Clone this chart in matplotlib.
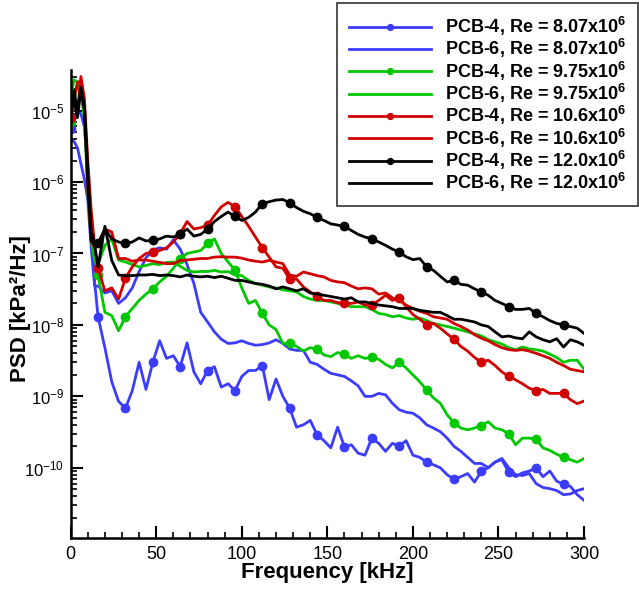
import numpy as np
import matplotlib
matplotlib.use("Agg")
import matplotlib.pyplot as plt
from matplotlib.ticker import LogLocator, MultipleLocator, NullFormatter, FixedLocator

plt.rcParams['font.family'] = ['Liberation Sans', 'DejaVu Sans']
plt.rcParams['mathtext.fontset'] = 'custom'
plt.rcParams['mathtext.rm'] = 'Liberation Sans'
plt.rcParams['mathtext.it'] = 'Liberation Sans:italic'
plt.rcParams['mathtext.bf'] = 'Liberation Sans:bold'

# Frequency grid [kHz]
freq = [0, 2, 4, 6, 8, 10, 12, 14, 16,
        20, 24, 28, 32, 36, 40, 44, 48, 52, 56, 60, 64, 68, 72, 76, 80,
        84, 88, 92, 96, 100, 104, 108, 112, 116, 120, 124, 128, 132, 136, 140,
        144, 148, 152, 156, 160, 164, 168, 172, 176, 180, 184, 188, 192, 196, 200,
        204, 208, 212, 216, 220, 224, 228, 232, 236, 240, 244, 248, 252, 256, 260,
        264, 268, 272, 276, 280, 284, 288, 292, 296, 300]

# PSD [kPa^2/Hz]
b4 = [5.6e-6, 7.5e-6, 1.0e-5, 9.0e-6, 6.0e-6, 1.5e-6, 2.5e-7, 4.0e-8, 1.3e-8,
      4.8e-9, 1.6e-9, 8.5e-10, 6.8e-10, 1.2e-9, 3.0e-9, 1.25e-9, 3.0e-9, 6.0e-9, 3.4e-9, 3.7e-9, 2.6e-9,
      5.6e-9, 2.2e-9, 1.5e-9, 2.3e-9, 2.6e-9, 1.35e-9, 1.5e-9, 1.2e-9, 1.9e-9, 2.3e-9,
      2.3e-9, 2.7e-9, 9.0e-10, 1.75e-9, 1.0e-9, 6.8e-10, 3.7e-10, 4.0e-10, 4.6e-10,
      2.9e-10, 2.4e-10, 1.9e-10, 3.7e-10, 1.95e-10, 2.1e-10, 1.6e-10, 1.5e-10, 2.6e-10, 2.2e-10,
      1.7e-10, 2.2e-10, 2.0e-10, 2.4e-10, 1.5e-10, 1.4e-10, 1.2e-10, 1.1e-10, 1.0e-10, 8.0e-11,
      6.9e-11, 7.5e-11, 8.3e-11, 6.3e-11, 9.0e-11, 1.0e-10, 1.2e-10, 1.3e-10, 8.6e-11, 7.5e-11,
      8.5e-11, 9.0e-11, 1.0e-10, 7.5e-11, 9.0e-11, 6.5e-11, 5.9e-11, 5.5e-11, 4.2e-11, 3.5e-11]
b6 = [3.9e-6, 3.7e-6, 3.0e-6, 1.8e-6, 1.1e-6, 5.6e-7, 1.2e-7, 3.5e-8, 3.5e-8,
      2.8e-8, 3.0e-8, 2.0e-8, 2.4e-8, 3.3e-8, 5.6e-8, 8.7e-8, 1.12e-7, 1.2e-7, 1.15e-7, 1.55e-7, 1.15e-7,
      7.0e-8, 3.8e-8, 1.5e-8, 1.1e-8, 8.0e-9, 6.3e-9, 5.5e-9, 5.6e-9, 6.0e-9, 5.5e-9,
      5.2e-9, 5.3e-9, 5.6e-9, 6.2e-9, 5.5e-9, 4.6e-9, 4.4e-9, 4.4e-9, 3.0e-9,
      2.8e-9, 2.4e-9, 2.1e-9, 2.0e-9, 1.9e-9, 1.65e-9, 1.4e-9, 1.0e-9, 1.0e-9, 1.1e-9,
      1.05e-9, 8.0e-10, 6.5e-10, 6.0e-10, 5.8e-10, 5.0e-10, 4.0e-10, 3.6e-10, 3.2e-10, 2.6e-10,
      2.0e-10, 1.7e-10, 1.4e-10, 1.15e-10, 1.15e-10, 1.0e-10, 1.2e-10, 1.35e-10, 1.0e-10, 8.0e-11,
      7.8e-11, 8.3e-11, 6.0e-11, 5.3e-11, 5.1e-11, 4.8e-11, 4.2e-11, 4.3e-11, 4.8e-11, 5.1e-11]
g4 = [6.9e-6, 1.5e-5, 2.2e-5, 1.8e-5, 8.0e-6, 1.0e-6, 2.0e-7, 9.0e-8, 5.0e-8,
      1.5e-8, 1.35e-8, 8.3e-9, 1.3e-8, 1.7e-8, 2.2e-8, 2.7e-8, 3.2e-8, 4.0e-8, 4.8e-8, 6.2e-8, 8.5e-8,
      1.0e-7, 1.05e-7, 1.1e-7, 1.38e-7, 1.6e-7, 1.0e-7, 7.6e-8, 5.9e-8, 3.3e-8, 2.0e-8,
      2.2e-8, 1.45e-8, 1.0e-8, 8.6e-9, 5.5e-9, 5.5e-9, 5.0e-9, 4.3e-9, 4.8e-9,
      4.6e-9, 3.8e-9, 3.6e-9, 4.1e-9, 3.9e-9, 3.4e-9, 3.7e-9, 3.4e-9, 3.5e-9, 3.3e-9,
      2.8e-9, 2.5e-9, 3.0e-9, 2.5e-9, 2.0e-9, 1.6e-9, 1.23e-9, 9.5e-10, 8.0e-10, 5.5e-10,
      4.3e-10, 3.6e-10, 3.4e-10, 3.6e-10, 3.9e-10, 4.4e-10, 3.6e-10, 3.4e-10, 3.0e-10, 2.1e-10,
      2.6e-10, 2.6e-10, 2.5e-10, 1.9e-10, 1.75e-10, 1.55e-10, 1.4e-10, 1.3e-10, 1.2e-10, 1.35e-10]
g6 = [1.5e-5, 2.7e-5, 2.5e-5, 2.0e-5, 8.0e-6, 7.0e-7, 1.5e-7, 8.0e-8, 7.0e-8,
      1.3e-7, 1.6e-7, 8.1e-8, 7.6e-8, 7.0e-8, 6.5e-8, 6.8e-8, 7.2e-8, 7.0e-8, 7.5e-8, 7.6e-8, 6.6e-8,
      5.8e-8, 5.5e-8, 5.6e-8, 5.6e-8, 5.8e-8, 5.5e-8, 5.6e-8, 5.0e-8, 4.9e-8, 4.2e-8,
      3.8e-8, 3.6e-8, 3.4e-8, 3.3e-8, 3.1e-8, 3.0e-8, 2.9e-8, 2.5e-8, 2.3e-8,
      2.2e-8, 2.2e-8, 2.1e-8, 2.0e-8, 1.9e-8, 1.8e-8, 1.8e-8, 1.8e-8, 1.65e-8, 1.45e-8,
      1.4e-8, 1.3e-8, 1.35e-8, 1.25e-8, 1.2e-8, 1.25e-8, 1.15e-8, 1.05e-8, 1.0e-8, 9.5e-9,
      9.0e-9, 8.5e-9, 8.0e-9, 7.5e-9, 7.0e-9, 6.2e-9, 5.8e-9, 5.4e-9, 4.8e-9, 4.5e-9,
      4.9e-9, 4.6e-9, 4.5e-9, 4.3e-9, 3.9e-9, 3.5e-9, 3.0e-9, 3.2e-9, 3.2e-9, 2.4e-9]
r4 = [7.8e-6, 1.2e-5, 1.0e-5, 3.0e-5, 1.5e-5, 2.0e-6, 4.0e-7, 1.3e-7, 6.2e-8,
      3.0e-8, 3.3e-8, 2.3e-8, 4.5e-8, 6.5e-8, 8.5e-8, 1.0e-7, 1.05e-7, 1.1e-7, 1.2e-7, 1.45e-7, 1.9e-7,
      2.8e-7, 2.2e-7, 2.3e-7, 2.5e-7, 3.4e-7, 4.5e-7, 5.2e-7, 4.5e-7, 3.3e-7, 2.4e-7,
      1.7e-7, 1.2e-7, 8.9e-8, 6.5e-8, 6.2e-8, 4.4e-8, 4.4e-8, 3.4e-8, 2.9e-8,
      2.5e-8, 2.2e-8, 2.2e-8, 2.05e-8, 2.0e-8, 2.0e-8, 2.1e-8, 1.9e-8, 1.9e-8, 2.2e-8,
      2.6e-8, 2.2e-8, 2.4e-8, 1.8e-8, 1.4e-8, 1.2e-8, 1.0e-8, 1.05e-8, 9.0e-9, 7.5e-9,
      6.3e-9, 5.0e-9, 4.3e-9, 3.5e-9, 3.0e-9, 3.2e-9, 2.7e-9, 2.2e-9, 1.9e-9, 1.7e-9,
      1.5e-9, 1.3e-9, 1.2e-9, 1.25e-9, 1.1e-9, 1.1e-9, 1.1e-9, 9.0e-10, 7.9e-10, 8.6e-10]
r6 = [1.0e-5, 1.5e-5, 2.5e-5, 2.6e-5, 1.2e-5, 8.0e-7, 1.5e-7, 1.2e-7, 1.3e-7,
      2.2e-7, 2.0e-7, 8.5e-8, 8.5e-8, 7.8e-8, 8.1e-8, 8.1e-8, 7.8e-8, 7.5e-8, 7.2e-8, 7.2e-8, 8.0e-8,
      8.1e-8, 8.3e-8, 8.5e-8, 8.5e-8, 8.9e-8, 9.0e-8, 8.9e-8, 8.9e-8, 8.6e-8, 8.1e-8,
      7.8e-8, 7.6e-8, 8.0e-8, 7.6e-8, 7.2e-8, 5.0e-8, 4.8e-8, 5.5e-8, 5.2e-8,
      4.9e-8, 4.7e-8, 4.2e-8, 4.0e-8, 3.9e-8, 3.5e-8, 3.2e-8, 3.3e-8, 3.2e-8, 2.7e-8,
      2.8e-8, 2.4e-8, 2.2e-8, 1.9e-8, 1.7e-8, 1.55e-8, 1.45e-8, 1.3e-8, 1.25e-8, 1.2e-8,
      1.05e-8, 9.5e-9, 8.5e-9, 7.3e-9, 6.5e-9, 6.0e-9, 5.3e-9, 4.8e-9, 4.5e-9, 4.4e-9,
      4.5e-9, 4.3e-9, 4.0e-9, 3.7e-9, 3.4e-9, 3.0e-9, 2.7e-9, 2.4e-9, 2.3e-9, 2.2e-9]
k4 = [1.3e-5, 1.9e-5, 1.0e-5, 2.1e-5, 1.2e-5, 1.5e-6, 2.0e-7, 1.4e-7, 1.4e-7,
      2.2e-7, 1.6e-7, 1.45e-7, 1.38e-7, 1.45e-7, 1.65e-7, 1.5e-7, 1.52e-7, 1.6e-7, 1.75e-7, 1.7e-7, 1.85e-7,
      2.2e-7, 1.75e-7, 1.85e-7, 2.2e-7, 2.8e-7, 3.3e-7, 3.8e-7, 3.3e-7, 2.9e-7, 3.2e-7,
      3.8e-7, 5.0e-7, 5.3e-7, 5.6e-7, 5.7e-7, 5.1e-7, 4.4e-7, 3.9e-7, 3.6e-7,
      3.2e-7, 2.9e-7, 2.6e-7, 2.5e-7, 2.4e-7, 2.1e-7, 1.85e-7, 1.7e-7, 1.6e-7, 1.45e-7,
      1.3e-7, 1.15e-7, 1.05e-7, 9.0e-8, 8.2e-8, 8.5e-8, 6.5e-8, 5.8e-8, 4.8e-8, 4.0e-8,
      4.2e-8, 3.7e-8, 3.6e-8, 3.2e-8, 2.9e-8, 2.6e-8, 2.2e-8, 2.0e-8, 1.8e-8, 1.65e-8,
      1.65e-8, 1.7e-8, 1.45e-8, 1.3e-8, 1.15e-8, 1.05e-8, 1.0e-8, 9.5e-9, 9.0e-9, 7.6e-9]
k6 = [1.0e-5, 1.4e-5, 8.0e-6, 2.0e-5, 1.0e-5, 1.0e-6, 1.5e-7, 1.3e-7, 6.5e-8,
      2.4e-7, 8.0e-8, 5.0e-8, 4.9e-8, 4.9e-8, 5.0e-8, 5.0e-8, 5.1e-8, 4.9e-8, 5.0e-8, 4.9e-8, 4.7e-8,
      5.0e-8, 4.8e-8, 4.7e-8, 4.8e-8, 4.6e-8, 4.8e-8, 4.5e-8, 4.2e-8, 4.2e-8, 4.0e-8,
      3.8e-8, 3.7e-8, 3.5e-8, 3.2e-8, 3.4e-8, 3.2e-8, 3.0e-8, 3.2e-8, 2.8e-8,
      2.7e-8, 2.6e-8, 2.5e-8, 2.4e-8, 2.3e-8, 2.4e-8, 2.1e-8, 2.1e-8, 2.0e-8, 1.9e-8,
      1.85e-8, 1.8e-8, 1.7e-8, 1.7e-8, 1.7e-8, 1.6e-8, 1.55e-8, 1.5e-8, 1.5e-8, 1.35e-8,
      1.2e-8, 1.2e-8, 1.15e-8, 1.1e-8, 1.0e-8, 9.5e-9, 8.0e-9, 6.8e-9, 7.0e-9, 6.6e-9,
      6.4e-9, 8.0e-9, 6.8e-9, 6.2e-9, 5.8e-9, 6.4e-9, 4.9e-9, 6.2e-9, 5.8e-9, 5.2e-9]

ytick_values = [1e-10, 1e-9, 1e-8, 1e-7, 1e-6, 1e-5]

series = [
    (b4, '#3c3cff', True, 'PCB-4, Re = 8.07x10$^{\\mathbf{6}}$'),
    (b6, '#3c3cff', False, 'PCB-6, Re = 8.07x10$^{\\mathbf{6}}$'),
    (g4, '#00c800', True, 'PCB-4, Re = 9.75x10$^{\\mathbf{6}}$'),
    (g6, '#00c800', False, 'PCB-6, Re = 9.75x10$^{\\mathbf{6}}$'),
    (r4, '#d00000', True, 'PCB-4, Re = 10.6x10$^{\\mathbf{6}}$'),
    (r6, '#d00000', False, 'PCB-6, Re = 10.6x10$^{\\mathbf{6}}$'),
    (k4, '#000000', True, 'PCB-4, Re = 12.0x10$^{\\mathbf{6}}$'),
    (k6, '#000000', False, 'PCB-6, Re = 12.0x10$^{\\mathbf{6}}$'),
]

fig = plt.figure(figsize=(6.39, 5.89), dpi=100)
ax = fig.add_axes([0.1106, 0.0866, 0.8034, 0.7945])

marks = [i for i, f in enumerate(freq) if f % 16 == 0]
for vals, col, mk, lab in series:
    if mk:
        ax.plot(freq, vals, color=col, lw=2.0, marker='o', ms=6,
                markevery=marks, label=lab)
    else:
        ax.plot(freq, vals, color=col, lw=2.0, label=lab)

ax.set_yscale('log')
ax.set_xlim(0, 300)
ax.set_ylim(1.04e-11, 3.7e-5)
ax.xaxis.set_major_locator(MultipleLocator(50))
ax.xaxis.set_minor_locator(MultipleLocator(10))
ax.yaxis.set_major_locator(FixedLocator(ytick_values))
ax.yaxis.set_minor_locator(LogLocator(base=10, subs=np.arange(2, 10), numticks=20))
ax.yaxis.set_minor_formatter(NullFormatter())

for s in ['top', 'right']:
    ax.spines[s].set_visible(False)
for s in ['left', 'bottom']:
    ax.spines[s].set_linewidth(1.8)
ax.tick_params(which='major', direction='in', length=8.5, width=1.5)
ax.tick_params(which='minor', direction='in', length=4.5, width=1.2)
ax.tick_params(axis='x', which='major', pad=6, labelsize=13)
ax.tick_params(axis='y', which='major', pad=4.8, labelsize=12)

ax.set_xlabel('Frequency [kHz]', fontsize=16, fontweight='bold')
ax.xaxis.set_label_coords(0.5, -0.051)
ax.set_ylabel('PSD [kPa²/Hz]', fontsize=16, fontweight='bold')
ax.yaxis.set_label_coords(-0.0765, 0.491)

leg = ax.legend(loc='upper right', bbox_to_anchor=(638/639, 1 - 3/589),
                bbox_transform=fig.transFigure, borderaxespad=0,
                prop={'weight': 'bold', 'size': 13}, frameon=True, fancybox=False,
                edgecolor='black', handlelength=4.55, handletextpad=0.78,
                labelspacing=-0.04, markerscale=0.7, borderpad=0.65)
leg.get_frame().set_linewidth(1.2)

fig.savefig('out.png', dpi=100)
